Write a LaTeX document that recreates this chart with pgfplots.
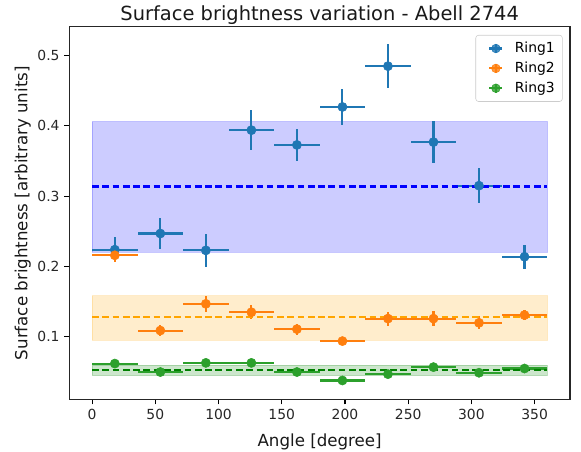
\documentclass[border=0pt]{standalone}
\usepackage{fontspec}
\setmainfont{DejaVu Sans}
\usepackage{pgfplots}
\usepackage{pgfplotstable}
\pgfplotsset{compat=1.18}
\definecolor{tabblue}{RGB}{31,119,180}
\definecolor{taborange}{RGB}{255,127,14}
\definecolor{tabgreen}{RGB}{44,160,44}
\definecolor{mplblue}{RGB}{0,0,255}
\definecolor{mplorange}{RGB}{255,165,0}
\definecolor{mplgreen}{RGB}{0,128,0}
\pgfplotstableread{
x y xe ye
18 0.224 18 0.018
54 0.247 18 0.0225
90 0.223 18 0.023
126 0.394 18 0.028
162 0.373 18 0.023
198 0.427 18 0.025
234 0.485 18 0.031
270 0.377 18 0.030
306 0.315 18 0.025
342 0.214 18 0.017
}\ringone
\pgfplotstableread{
x y xe ye
18 0.216 18 0.010
54 0.109 18 0.008
90 0.147 18 0.011
126 0.135 18 0.010
162 0.111 18 0.008
198 0.094 18 0.006
234 0.126 18 0.010
270 0.126 18 0.011
306 0.120 18 0.009
342 0.131 18 0.007
}\ringtwo
\pgfplotstableread{
x y xe ye
18 0.062 18 0.004
54 0.050 18 0.003
90 0.063 18 0.004
126 0.063 18 0.003
162 0.050 18 0.003
198 0.038 18 0.003
234 0.047 18 0.003
270 0.057 18 0.003
306 0.049 18 0.003
342 0.055 18 0.003
}\ringthree
\pgfplotsset{
  ebar/.style={
    color=#1, only marks, mark=*, mark size=3.3pt,
    mark options={solid, fill=#1, draw=#1},
    legend image code/.code={
      \path[draw=none, fill=none] (-11pt,0) -- (11.6pt,0);
      \draw[line width=1.5pt,#1] (-4.7pt,0) -- (4.7pt,0);
      \draw[line width=1.5pt,#1] (0,-3.4pt) -- (0,3.4pt);
      \fill[#1] (0,0) circle (3.1pt);
    },
    error bars/.cd, x dir=both, x explicit, y dir=both, y explicit,
    error mark=none, error bar style={line width=1.5pt, color=#1},
    /pgfplots/.cd,
  },
}
\begin{document}
\begin{tikzpicture}
\useasboundingbox (-49.9pt,-37.8pt) rectangle (368.4pt,287.6pt);
\begin{axis}[
  scale only axis,
  width=360.5pt, height=268.2pt,
  xmin=-18, xmax=378, ymin=0.011, ymax=0.5408,
  xtick={0,50,...,350},
  ytick={0.1,0.2,0.3,0.4,0.5},
  yticklabel style={/pgf/number format/.cd, fixed, precision=1, fixed zerofill},
  xtick pos=bottom, ytick pos=left,
  tick align=outside,
  major tick length=3.5pt,
  every tick/.style={black, line width=0.8pt},
  axis line style={line width=0.8pt, black!85},
  /pgf/number format/assume math mode=true,
  tick label style={font=\fontsize{10}{12}\selectfont, black!85},
  title={Surface brightness variation - Abell 2744},
  every axis title/.style={font=\fontsize{14}{16}\selectfont, at={([yshift=4.7pt]rel axis cs:0.5,1)}, anchor=base, black!90},
  xlabel={Angle [degree]},
  ylabel={Surface brightness [arbitrary units]},
  every axis x label/.style={at={([yshift=-34pt]rel axis cs:0.5,0)}, anchor=base, font=\fontsize{12}{14}\selectfont, black!90},
  every axis y label/.style={at={([xshift=-30.1pt]rel axis cs:0,0.5)}, anchor=base, rotate=90, font=\fontsize{12}{14}\selectfont, black!90},
  legend style={at={(rel axis cs:1,1)}, anchor=north east, xshift=-5.3pt, yshift=-5.8pt,
    draw=black!20, rounded corners=2pt, fill=white, fill opacity=0.8, text opacity=1,
    font=\fontsize{10}{12}\selectfont, row sep=1.2pt, inner xsep=3.5pt, inner ysep=3pt},
  legend cell align=left,
]
% bands
\addplot[fill=mplblue, fill opacity=0.2, draw=mplblue, draw opacity=0.2, line width=0.7pt, forget plot]
  coordinates {(0,0.2207) (360,0.2207) (360,0.4063) (0,0.4063) (0,0.2207)};
\addplot[fill=mplorange, fill opacity=0.2, draw=mplorange, draw opacity=0.2, line width=0.7pt, forget plot]
  coordinates {(0,0.0953) (360,0.0953) (360,0.1582) (0,0.1582) (0,0.0953)};
\addplot[fill=mplgreen, fill opacity=0.2, draw=mplgreen, draw opacity=0.2, line width=0.7pt, forget plot]
  coordinates {(0,0.0450) (360,0.0450) (360,0.0597) (0,0.0597) (0,0.0450)};
% points
\addplot[ebar=tabblue] table[x=x, y=y, x error=xe, y error=ye] {\ringone};
\addlegendentry{Ring1}
\addplot[ebar=taborange] table[x=x, y=y, x error=xe, y error=ye] {\ringtwo};
\addlegendentry{Ring2}
\addplot[ebar=tabgreen] table[x=x, y=y, x error=xe, y error=ye] {\ringthree};
\addlegendentry{Ring3}
% means
\addplot[mplblue, line width=1.5pt, dash pattern=on 4.8pt off 2.6pt, forget plot] coordinates {(0,0.3139) (360,0.3139)};
\addplot[mplorange, line width=1.5pt, dash pattern=on 4.8pt off 2.6pt, forget plot] coordinates {(0,0.1284) (360,0.1284)};
\addplot[mplgreen, line width=1.5pt, dash pattern=on 4.8pt off 2.6pt, forget plot] coordinates {(0,0.0526) (360,0.0526)};
\end{axis}
\end{tikzpicture}
\end{document}
